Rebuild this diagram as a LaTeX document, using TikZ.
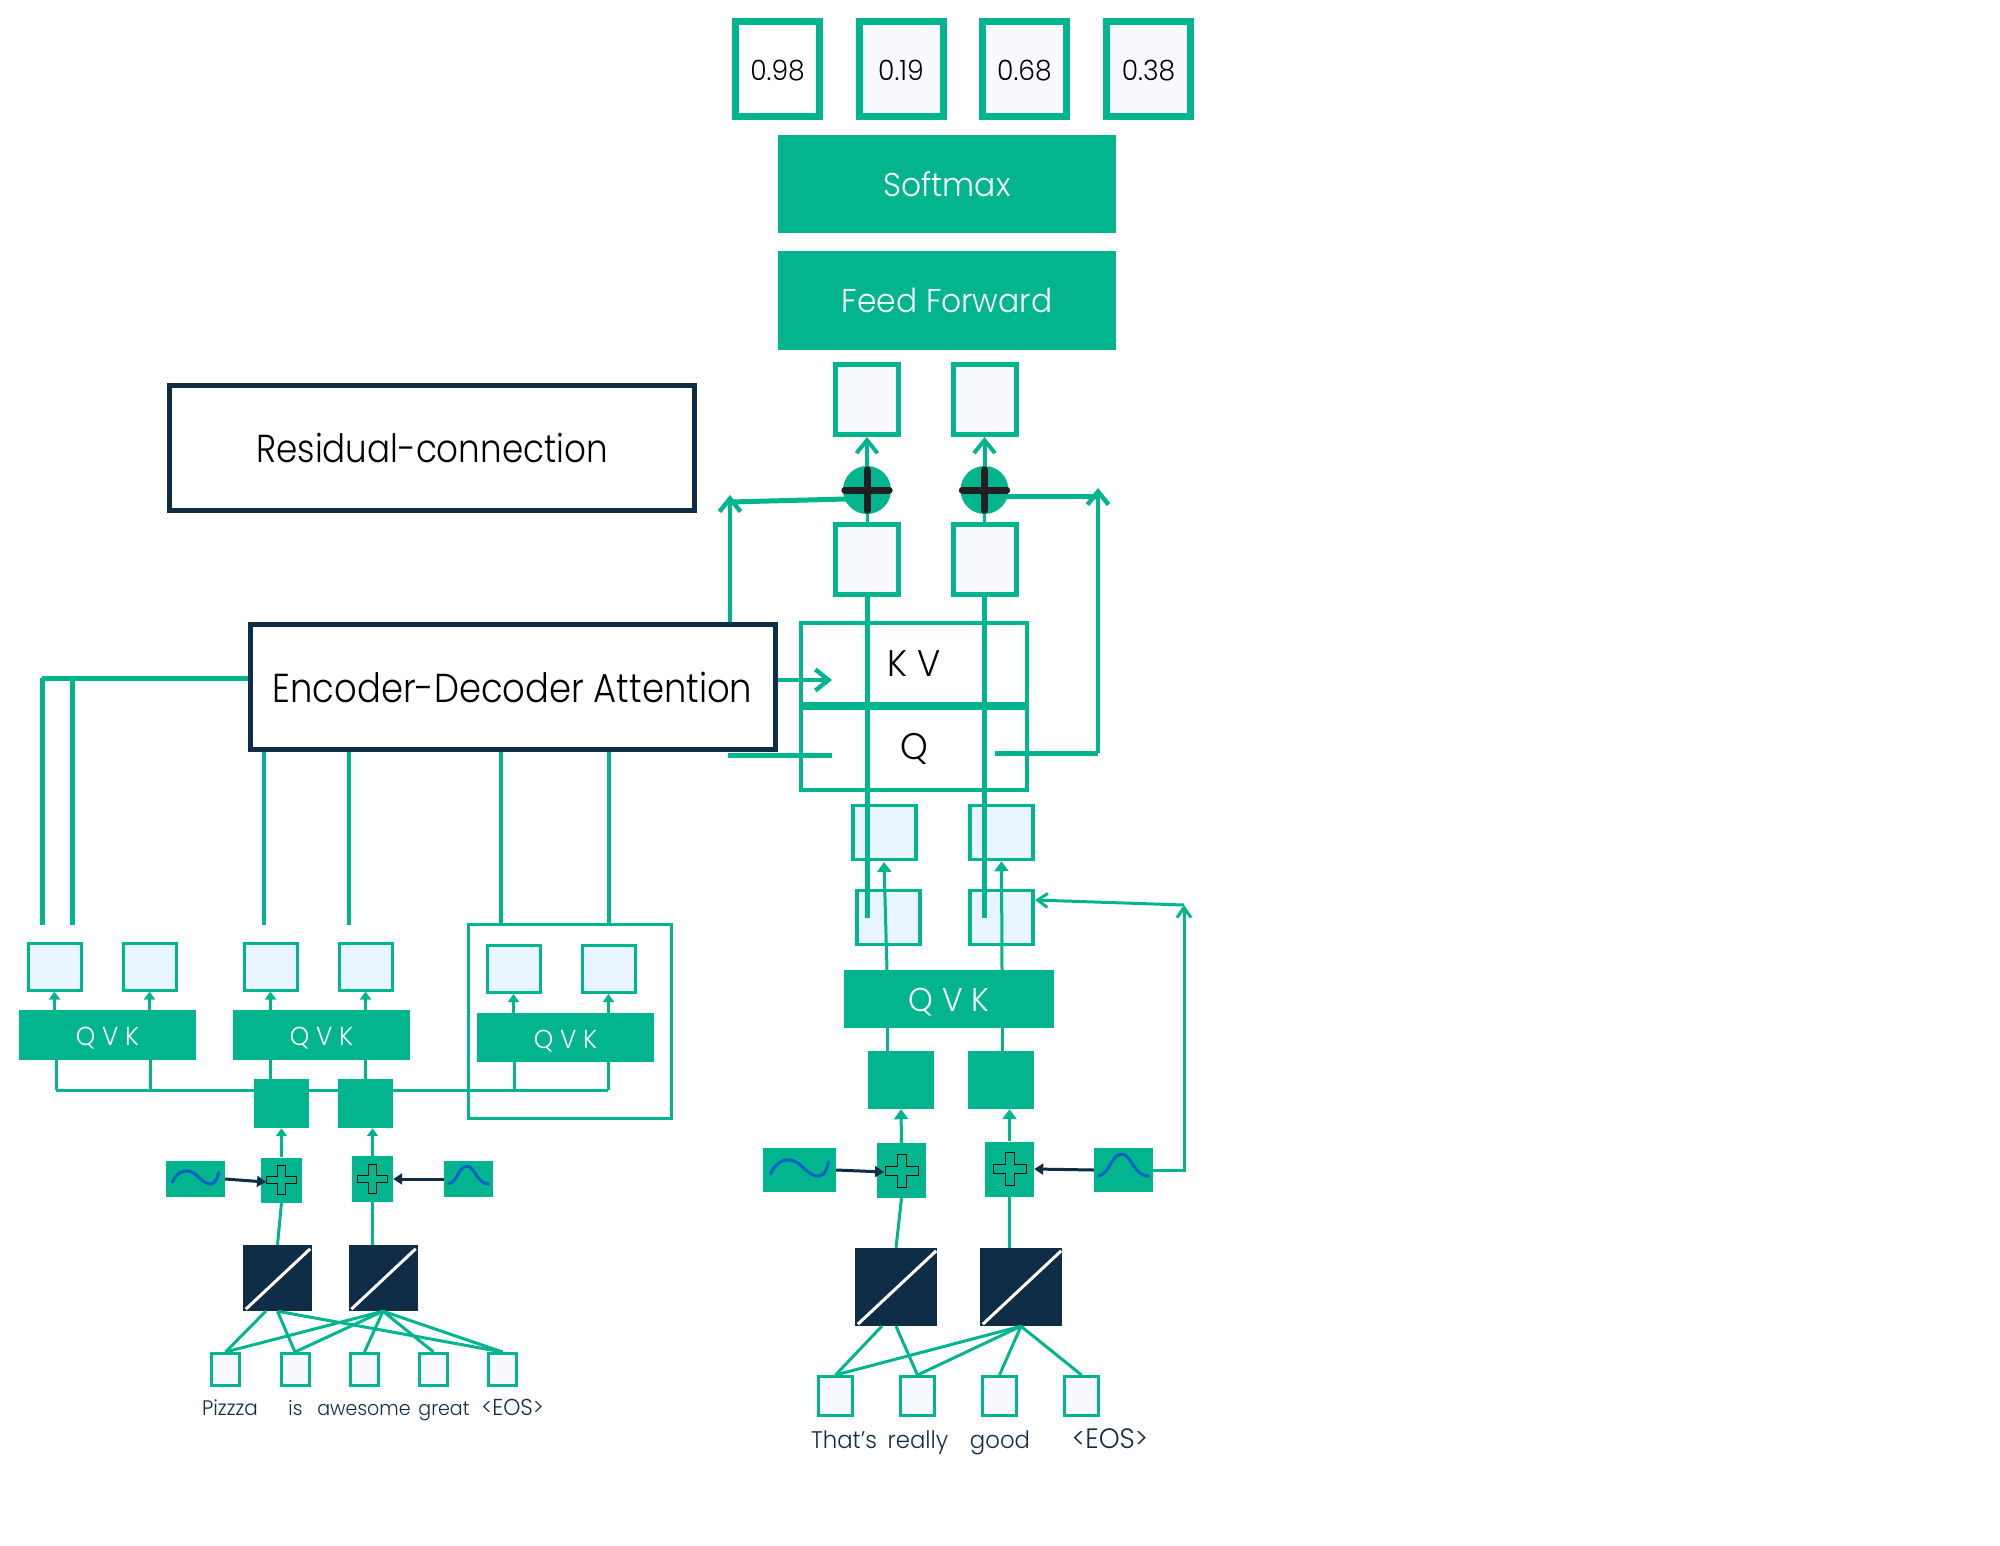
\documentclass[tikz,border=0pt]{standalone}
\usepackage{fontspec}
\setmainfont{Poppins}[UprightFont=* Light,FakeStretch=0.95]
\newfontfamily\slimfont{Poppins}[UprightFont=* Light,FakeStretch=0.875]
\usepackage{xcolor}
\usetikzlibrary{arrows.meta,positioning,calc}

\definecolor{tealc}{HTML}{02B58F}
\definecolor{navyc}{HTML}{0F2D47}
\definecolor{paleb}{HTML}{E8F5FC}
\definecolor{palew}{HTML}{F8FAFF}
\definecolor{wavec}{HTML}{0B62C4}
\definecolor{plusc}{HTML}{231F20}

\tikzset{
  solidbox/.style={rectangle,fill=tealc,inner sep=0pt,text=white},
  probbox/.style={rectangle,draw=tealc,line width=7pt,fill=palew,inner sep=0pt,minimum width=84pt,minimum height=95pt,text height=22pt,text depth=0pt,font=\fontsize{28}{28}\selectfont},
  vecbox/.style={rectangle,draw=tealc,line width=5pt,fill=palew,inner sep=0pt,minimum width=63pt,minimum height=70pt},
  bluebox/.style={rectangle,draw=tealc,line width=3.5pt,fill=paleb,inner sep=0pt,minimum width=63pt,minimum height=54pt},
  tinybox/.style={rectangle,draw=tealc,line width=3pt,fill=paleb,inner sep=0pt,minimum width=53pt,minimum height=47pt},
  wordbox/.style={rectangle,draw=tealc,line width=3pt,fill=palew,inner sep=0pt,minimum width=28pt,minimum height=32pt},
  noteb/.style={rectangle,draw=navyc,line width=5pt,fill=white,inner sep=0pt,minimum width=525pt,minimum height=125pt,font=\slimfont\fontsize{39}{39}\selectfont},
  headb/.style={rectangle,draw=tealc,line width=4pt,inner sep=0pt,minimum width=226pt,font=\fontsize{37}{37}\selectfont},
  embbox/.style={rectangle,fill=navyc,inner sep=0pt},
  sumdot/.style={circle,fill=tealc,inner sep=0pt,minimum size=48pt},
  wordtag/.style={text=navyc,inner sep=0pt,anchor=base},
  qvksmall/.style={font=\fontsize{26}{26}\selectfont,text height=21pt,text depth=0pt},
  qvklarge/.style={font=\fontsize{33}{33}\selectfont,text height=24pt,text depth=0pt},
  link/.style={draw,color=tealc,line width=3pt,-},
  fatlink/.style={draw,color=tealc,line width=5pt,-},
  thinlink/.style={draw,color=tealc,line width=4pt,-},
  tiplink/.style={draw,color=tealc,line width=3pt,-{Triangle[length=8pt,width=11pt]}},
  bigtip/.style={draw,color=tealc,line width=3pt,-{Triangle[length=10pt,width=14pt]}},
  opentip/.style={draw,color=tealc,line width=4.5pt,-{Straight Barb[length=13pt,width=21pt]}},
  backtip/.style={draw,color=tealc,line width=3pt,-{Straight Barb[length=10pt,width=14pt]}},
  darktip/.style={draw,color=navyc,line width=3pt,-{Triangle[length=9pt,width=11pt]}},
  plusbar/.style={draw=plusc,line width=7pt,line cap=round},
  slash/.style={draw=white,line width=3pt,-},
  sinepic/.pic={\draw[draw=wavec,line width=3pt,line cap=round] (-29,4) .. controls (-22,-12) and (-8,-14) .. (2,-4) .. controls (10,4) and (24,16) .. (29,-8);},
  bumppic/.pic={\draw[draw=wavec,line width=3pt,line cap=round] (-25,6) .. controls (-14,4) and (-12,-16) .. (-2,-16) .. controls (8,-16) and (10,6) .. (25,6);},
  crosspic/.pic={\draw[draw=black,line width=1pt] (-4.5,-16.5) -- (4.5,-16.5) -- (4.5,-4.5) -- (16.5,-4.5) -- (16.5,4.5) -- (4.5,4.5) -- (4.5,16.5) -- (-4.5,16.5) -- (-4.5,4.5) -- (-16.5,4.5) -- (-16.5,-4.5) -- (-4.5,-4.5) -- cycle;}
}

\begin{document}
\begin{tikzpicture}[x=1pt,y=-1pt]
  \useasboundingbox (0,0) rectangle (2000,1545);

  % top of the decoder
  \node[probbox,fill=white] (pA) at (777.5,69) {0.98};
  \node[probbox] (pB) [right of=pA,node distance=123.5pt] {0.19};
  \node[probbox] (pC) [right of=pB,node distance=123.5pt] {0.68};
  \node[probbox] (pD) [right of=pC,node distance=124pt] {0.38};
  \node[solidbox,minimum width=338pt,minimum height=98pt,font=\fontsize{33}{33}\selectfont] (soft) at (947,184) {Softmax};
  \node[solidbox,minimum width=338pt,minimum height=99pt,font=\fontsize{33}{33}\selectfont] (feed) at (947,300.5) {Feed Forward};

  \node[vecbox] (outA) at (867,399.5) {};
  \node[vecbox] (outB) [right of=outA,node distance=117.5pt] {};
  \node[vecbox] (inA) at (867,559.5) {};
  \node[vecbox] (inB) [right of=inA,node distance=117.5pt] {};

  \node[noteb] (resid) at (432,448) {Residual-connection};
  \node[headb,minimum height=81pt] (kv) at (914,663.5) {K V};
  \node[headb,minimum height=82pt] (q) at (914,749) {Q};

  % decoder side
  \node[bluebox] (decA) at (884.5,832.5) {};
  \node[bluebox] (decB) [right of=decA,node distance=117pt] {};
  \node[bluebox] (selfA) at (888.5,917.5) {};
  \node[bluebox] (selfB) [right of=selfA,node distance=113pt] {};
  \node[solidbox,minimum width=210pt,minimum height=58pt,qvklarge] (qvkD) at (949,999) {Q V K};
  \node[solidbox,minimum width=66pt,minimum height=58pt] (ffC) at (901,1080) {};
  \node[solidbox,minimum width=66pt,minimum height=58pt] (ffD) [right of=ffC,node distance=100pt] {};
  \node[solidbox,minimum width=49pt,minimum height=55pt] (plusC) at (901.5,1170.5) {};
  \node[solidbox,minimum width=49pt,minimum height=55pt] (plusD) at (1009.5,1169) {};
  \pic at (plusC) {crosspic};
  \pic at (plusD) {crosspic};
  \node[solidbox,minimum width=73pt,minimum height=44pt] (sineC) at (799.5,1170) {};
  \node[solidbox,minimum width=59pt,minimum height=44pt] (sineD) at (1123.5,1170) {};
  \pic at (sineC) {sinepic};
  \pic at (sineD) {bumppic};
  \node[embbox,minimum width=82pt,minimum height=78pt] (embC) at (896,1287) {};
  \node[embbox,minimum width=82pt,minimum height=78pt] (embD) [right of=embC,node distance=125pt] {};
  \node[wordbox,minimum width=34pt,minimum height=39pt] (wE) at (835.5,1396) {};
  \node[wordbox,minimum width=34pt,minimum height=39pt] (wF) [right of=wE,node distance=82pt] {};
  \node[wordbox,minimum width=34pt,minimum height=39pt] (wG) [right of=wF,node distance=82pt] {};
  \node[wordbox,minimum width=34pt,minimum height=39pt] (wH) [right of=wG,node distance=82pt] {};
  \node[wordtag,font=\fontsize{24}{24}\selectfont] (tE) at (844,1448) {That's};
  \node[wordtag,font=\fontsize{24}{24}\selectfont] (tF) at (918,1448) {really};
  \node[wordtag,font=\fontsize{24}{24}\selectfont] (tG) at (1000,1448) {good};
  \node[wordtag,font=\fontsize{28}{28}\selectfont] (tH) at (1110,1448) {<EOS>};

  % encoder side
  \node[rectangle,draw=tealc,line width=3pt,inner sep=0pt,minimum width=203pt,minimum height=194pt] (frame) at (569.5,1021) {};
  \node[tinybox] (bA) at (54.5,966.5) {};
  \node[tinybox] (bB) [right of=bA,node distance=95pt] {};
  \node[tinybox] (bC) at (270.5,966.5) {};
  \node[tinybox] (bD) [right of=bC,node distance=95pt] {};
  \node[tinybox] (bE) at (513.5,969) {};
  \node[tinybox] (bF) [right of=bE,node distance=95pt] {};
  \node[solidbox,minimum width=177pt,minimum height=50pt,qvksmall] (qvkA) at (107.5,1035) {Q V K};
  \node[solidbox,minimum width=177pt,minimum height=50pt,qvksmall] (qvkB) at (321.5,1035) {Q V K};
  \node[solidbox,minimum width=177pt,minimum height=49pt,qvksmall] (qvkC) at (565.5,1037.5) {Q V K};
  \node[solidbox,minimum width=55pt,minimum height=49pt] (ffA) at (281.5,1103.5) {};
  \node[solidbox,minimum width=55pt,minimum height=49pt] (ffB) [right of=ffA,node distance=84pt] {};
  \node[solidbox,minimum width=41pt,minimum height=45pt] (plusA) at (281.5,1180) {};
  \node[solidbox,minimum width=41pt,minimum height=46pt] (plusB) at (372.5,1179) {};
  \pic[scale=.88] at (plusA) {crosspic};
  \pic[scale=.88] at (plusB) {crosspic};
  \node[solidbox,minimum width=59pt,minimum height=36pt] (sineA) at (195.5,1179) {};
  \node[solidbox,minimum width=49pt,minimum height=36pt] (sineB) at (468.5,1179) {};
  \pic[scale=.8] at (sineA) {sinepic};
  \pic[scale=.8] at (sineB) {bumppic};
  \node[embbox,minimum width=69pt,minimum height=66pt] (embA) at (277.5,1278) {};
  \node[embbox,minimum width=69pt,minimum height=66pt] (embB) [right of=embA,node distance=105.5pt] {};
  \node[wordbox] (wA) at (225.5,1369.5) {};
  \node[wordbox] (wB) [right of=wA,node distance=69.5pt] {};
  \node[wordbox] (wC) [right of=wB,node distance=69.5pt] {};
  \node[wordbox] (wD) [right of=wC,node distance=69pt] {};
  \node[wordbox] (wI) [right of=wD,node distance=69pt] {};
  \node[wordtag,font=\fontsize{21}{21}\selectfont] (tA) at (230,1415) {Pizzza};
  \node[wordtag,font=\fontsize{20}{20}\selectfont] (tB) at (295.5,1415) {is};
  \node[wordtag,font=\fontsize{20}{20}\selectfont] (tC) at (364,1415) {awesome};
  \node[wordtag,font=\fontsize{20}{20}\selectfont] (tD) at (444,1415) {great};
  \node[wordtag,font=\fontsize{23}{23}\selectfont] (tI) at (512.5,1415) {<EOS>};

  % free ends
  \coordinate (resL) at (730,502);
  \coordinate (resT) at (730,495);
  \coordinate (resS) at (846,499);
  \coordinate (resB) at (1000,496);
  \coordinate (resR) at (1098,496);
  \coordinate (resU) at (1098,488);
  \coordinate (qLa) at (728,755);
  \coordinate (qLb) at (832,755);
  \coordinate (qRa) at (995,753);
  \coordinate (qRb) at (1098,753);
  \coordinate (endA) at (867,918);
  \coordinate (endB) at (984.5,918);
  \coordinate (backC) at (1184,905);
  \coordinate (backD) at (1035,900);
  \coordinate (railA) at (56,1090);
  \coordinate (railB) at (150,1090);
  \coordinate (railC) at (608,1090);
  \coordinate (railD) at (514,1090);
  \coordinate (upA) at (42,925);
  \coordinate (upB) at (72,925);
  \coordinate (upC) at (264,925);
  \coordinate (upD) at (349,925);
  \coordinate (upE) at (501,925);
  \coordinate (upF) at (609,925);
  \coordinate (joinA) at (42,678);
  \coordinate (joinB) at (72,678);
  \coordinate (kvIn) at (832,680);
  \coordinate (fanC) at (882,1326);
  \coordinate (fanA) at (266,1311);
  \coordinate (dropA) at (266,1182);
  \coordinate (dropC) at (884,1172);
  \coordinate (qvkDa) at (887,970);
  \coordinate (qvkDb) at (1002,970);
  \coordinate (decAt) at (884,862);

  % long lines
  \draw[fatlink] (inA.south) -- (endA);
  \draw[fatlink] (inB.south) -- (endB);
  \node[noteb,font=\slimfont\fontsize{40.4}{40.4}\selectfont] (att) at (512.5,687) {Encoder-Decoder Attention};
  \draw[fatlink] (joinA) -- (upA);
  \draw[fatlink] (joinB) -- (upB);
  \draw[fatlink] (joinA) -- (att.west |- joinA);

  \path[every edge/.style=thinlink] (att.south -| upC) edge (upC)
        (att.south -| upD) edge (upD)
        (att.south -| upE) edge (upE)
        (att.south -| upF) edge (upF);

  \draw[opentip] (att.east |- kvIn) -- (kvIn);
  \draw[opentip] (att.north -| resL) -- (resT);
  \draw[fatlink] (resS) -- (resL);
  \draw[fatlink] (resB) -- (resR);
  \draw[fatlink] (qLa) -- (qLb);
  \draw[fatlink] (qRa) -- (qRb);
  \draw[opentip] (qRb) -- (resU);

  % the two adders sit on top of their lines
  \coordinate (sumAc) at (867,490);
  \coordinate (sumBc) at (984.5,490);
  \draw[opentip,line width=4pt] (sumAc) -- (outA.south);
  \draw[opentip,line width=4pt] (sumBc) -- (outB.south);
  \draw[link] (inA.north) -- (sumAc);
  \draw[link] (inB.north) -- (sumBc);
  \node[sumdot] (sumA) at (sumAc) {};
  \node[sumdot] (sumB) at (sumBc) {};
  \draw[plusbar] ($(sumA.north)+(0,4)$) -- ($(sumA.south)+(0,-4)$) ($(sumA.west)+(2,0)$) -- ($(sumA.east)+(-2,0)$);
  \draw[plusbar] ($(sumB.north)+(0,4)$) -- ($(sumB.south)+(0,-4)$) ($(sumB.west)+(2,0)$) -- ($(sumB.east)+(-2,0)$);

  \path[every edge/.style=bigtip] (qvkDa) edge (decAt)
        (qvkDb) edge (decB.south)
        (plusC.north) edge (ffC.south) (plusD.north) edge (plusD |- ffD.south);

  \path[every edge/.style=tiplink]
        (bA |- qvkA.north) edge (bA.south) (bB |- qvkA.north) edge (bB.south)
        (bC |- qvkB.north) edge (bC.south) (bD |- qvkB.north) edge (bD.south)
        (bE |- qvkC.north) edge (bE.south) (bF |- qvkC.north) edge (bF.south)
        (plusA.north) edge (ffA.south) (plusB.north) edge (plusB |- ffB.south);

  \path[every edge/.style=link] (qvkDa |- qvkD.south) edge (qvkDa |- ffC.north)
        (qvkDb |- qvkD.south) edge (qvkDb |- ffD.north)
        (plusC.south) edge (embC.north) (plusD.south) edge (plusD |- embD.north)
        (plusA.south) edge (embA.north) (plusB.south) edge (plusB |- embB.north)
        (railA |- qvkA.south) edge (railA) (railB |- qvkA.south) edge (railB)
        (railA) edge (ffA.west |- railA) (ffA.east |- railA) edge (ffB.west |- railA)
        (ffB.east |- railC) edge (railC)
        (bC |- qvkB.south) edge (bC |- ffA.north) (bD |- qvkB.south) edge (bD |- ffB.north)
        (railD |- qvkC.south) edge (railD) (railC |- qvkC.south) edge (railC);

  \path[every edge/.style=darktip] (sineA.east) edge (dropA)
        (sineB.west) edge (plusB.east)
        (sineC.east) edge (dropC)
        (sineD.west) edge (plusD.east);

  \draw[backtip] (sineD.east) -| (backC);
  \draw[backtip] (backC) -- (backD);

  % fans
  \path[every edge/.style=link] (fanC) edge (wE.north) (embC.south) edge (wF.north)
        (embD.south) edge (wE.north) (embD.south) edge (wF.north)
        (embD.south) edge (wG.north) (embD.south) edge (wH.north)
        (fanA) edge (wA.north) (embA.south) edge (wB.north) (embA.south) edge (wI.north)
        (embB.south) edge (wA.north) (embB.south) edge (wB.north)
        (embB.south) edge (wC.north) (embB.south) edge (wD.north) (embB.south) edge (wI.north);

  % slashes
  \draw[slash] ($(embA.south west)+(3,-2)$) -- ($(embA.north east)+(-2,4)$);
  \draw[slash] ($(embB.south west)+(3,-2)$) -- ($(embB.north east)+(-2,4)$);
  \draw[slash] ($(embC.south west)+(3,-2)$) -- ($(embC.north east)+(-1,3)$);
  \draw[slash] ($(embD.south west)+(3,-2)$) -- ($(embD.north east)+(-1,3)$);
\end{tikzpicture}
\end{document}
